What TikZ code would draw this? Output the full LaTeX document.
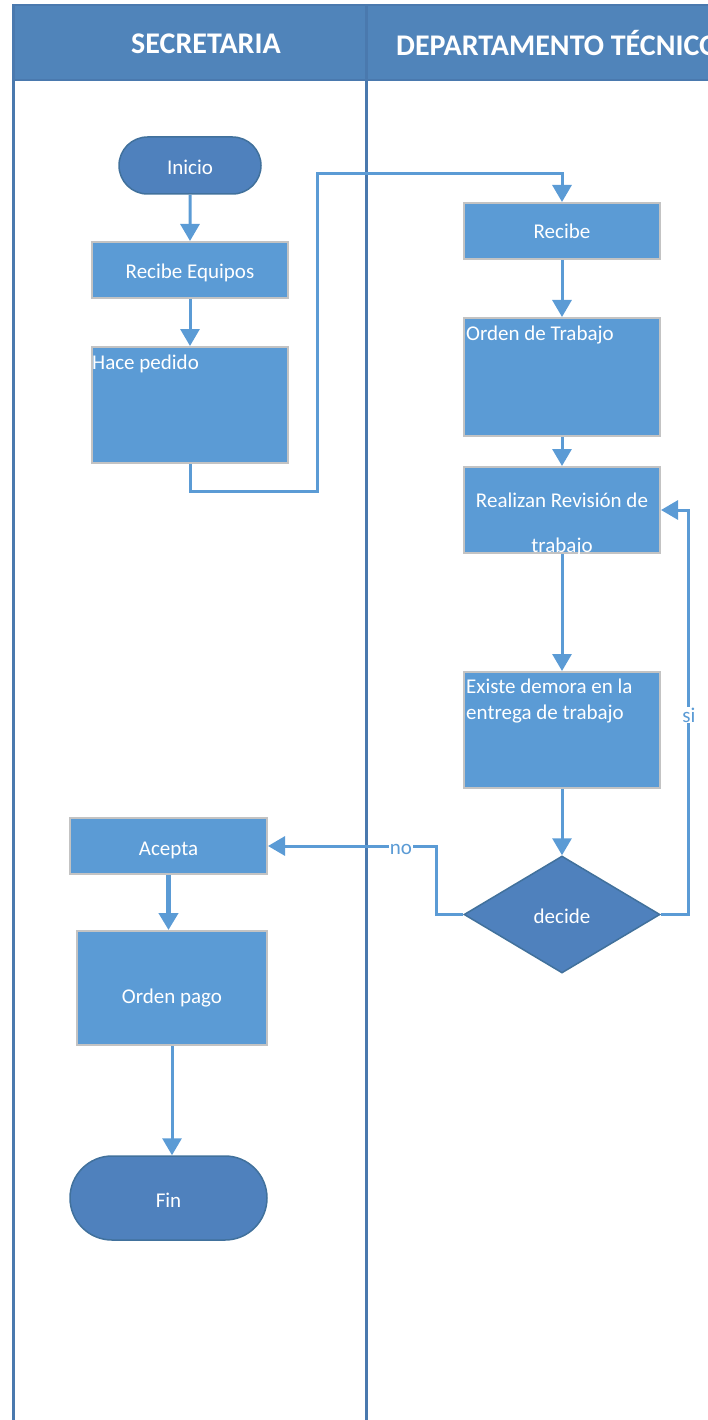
\documentclass[tikz,border=0pt]{standalone}
\usepackage{fontspec}
\setmainfont{Carlito}
\usetikzlibrary{arrows.meta,shapes.geometric,shapes.misc}
\definecolor{boxblue}{HTML}{5B9BD5}
\definecolor{termblue}{HTML}{4F81BD}
\definecolor{termedge}{HTML}{41719C}
\definecolor{headblue}{HTML}{5084BA}
\definecolor{laneedge}{HTML}{4A79AE}
\definecolor{boxedge}{HTML}{C3C3C3}
\definecolor{flow}{HTML}{5B9BD5}

\begin{document}
\begin{tikzpicture}[x=1pt,y=-1pt,
  txt/.style={font=\fontsize{21}{25.2}\selectfont, text=white},
  settext/.style={text height=18pt, text depth=0pt},
  process/.style={txt, draw=boxedge, line width=2pt, fill=boxblue,
    inner sep=0pt, minimum width=196pt},
  terminal/.style={txt, settext, rounded rectangle, draw=termedge, line width=1.5pt,
    fill=termblue, inner sep=0pt},
  decision/.style={txt, settext, diamond, draw=termedge, line width=1.5pt,
    fill=termblue, inner sep=0pt, minimum width=196pt, minimum height=117pt},
  flowline/.style={draw=flow, line width=3pt,
    -{Triangle[width=19pt,length=17pt]}},
  branch/.style={font=\fontsize{21}{25.2}\selectfont, text=flow,
    fill=white, inner sep=1pt},
  inlabel/.style={txt, inner sep=0pt, align=left},
  heading/.style={font=\fontsize{30}{36}\selectfont\bfseries, text=white}]

\useasboundingbox (0,0) rectangle (707,1420);

% swimlane frame and headers
\fill[headblue] (13,5) rectangle (760,80);
\draw[laneedge, line width=1.5pt] (760,5) -- (13,5) -- (13,80) -- (760,80);
\draw[laneedge, line width=3pt] (13,5) -- (13,1425);
\draw[laneedge, line width=3pt] (366,5) -- (366,1425);
\node[heading] (h1) at (206,43.5) {SECRETARIA};
\node[heading, anchor=west, inner sep=0pt] (h2) at (396,43.5) {DEPARTAMENTO TÉCNICO};

% Secretaría lane
\node[terminal, minimum width=142pt, minimum height=57pt] (ini) at (190,165.5) {Inicio};
\node[process, settext, minimum height=56pt] (reqp) at (190,270) {Recibe Equipos};
\node[process, minimum height=116pt,
  label={[inlabel, anchor=north west, xshift=1pt, yshift=-9pt]north west:Hace pedido}]
  (hace) at (190,405) {};
\node[process, settext, minimum width=197pt, minimum height=56pt] (acp) at (168.5,846) {Acepta};
\node[process, minimum width=190pt, minimum height=114pt,
  label={[txt, yshift=-10pt]center:Orden pago}] (pago) at (172,988) {};
\node[terminal, minimum width=197pt, minimum height=84pt] (fin) at (168.5,1198) {Fin};

% Departamento técnico lane
\node[process, minimum height=56pt] (rec) at (562,231) {Recibe};
\node[process, minimum height=118pt,
  label={[inlabel, anchor=north west, xshift=3pt, yshift=-9pt]north west:Orden de Trabajo}]
  (orden) at (562,377) {};
\node[process, minimum height=86pt,
  label={[txt, inner sep=0pt, anchor=base, yshift=-41pt]north:Realizan Revisión de},
  label={[txt, inner sep=0pt, anchor=base, yshift=-86pt]north:trabajo}]
  (real) at (562,510) {};
\node[process, minimum height=116pt,
  label={[inlabel, anchor=north west, xshift=3pt, yshift=-8pt,
    font=\fontsize{21}{26}\selectfont]north west:Existe demora en la\\entrega de trabajo}]
  (exi) at (562,730) {};
\node[decision] (dec) at (562,914.5) {decide};

% bend points of the routed connectors
\coordinate (j1) at (317,491);
\coordinate (j2) at (317,174);
\coordinate (jsi) at (688,510);
\coordinate (jno) at (436,846);

% connectors
\draw[flowline] (ini) -- (reqp);
\draw[flowline] (reqp) -- (hace);
\draw[flowline] (hace.south) |- (j1) -- (j2) -| (rec.north);
\draw[flowline] (rec) -- (orden);
\draw[flowline] (orden) -- (real);
\draw[flowline] (real) -- (exi);
\draw[flowline] (exi) -- (dec);
\draw[flowline] (dec.east) -| (jsi) -- (real.east);
\draw[flowline] (dec.west) -| (jno) -- (acp.east);
\draw[flowline, line width=5pt] (acp.south) -- (acp.south |- pago.north);
\draw[flowline] (pago.south) -- (pago.south |- fin.north);

% branch labels
\node[branch] (lsi) at (689,715) {si};
\node[branch] (lno) at (401,849) {no};
\end{tikzpicture}
\end{document}
